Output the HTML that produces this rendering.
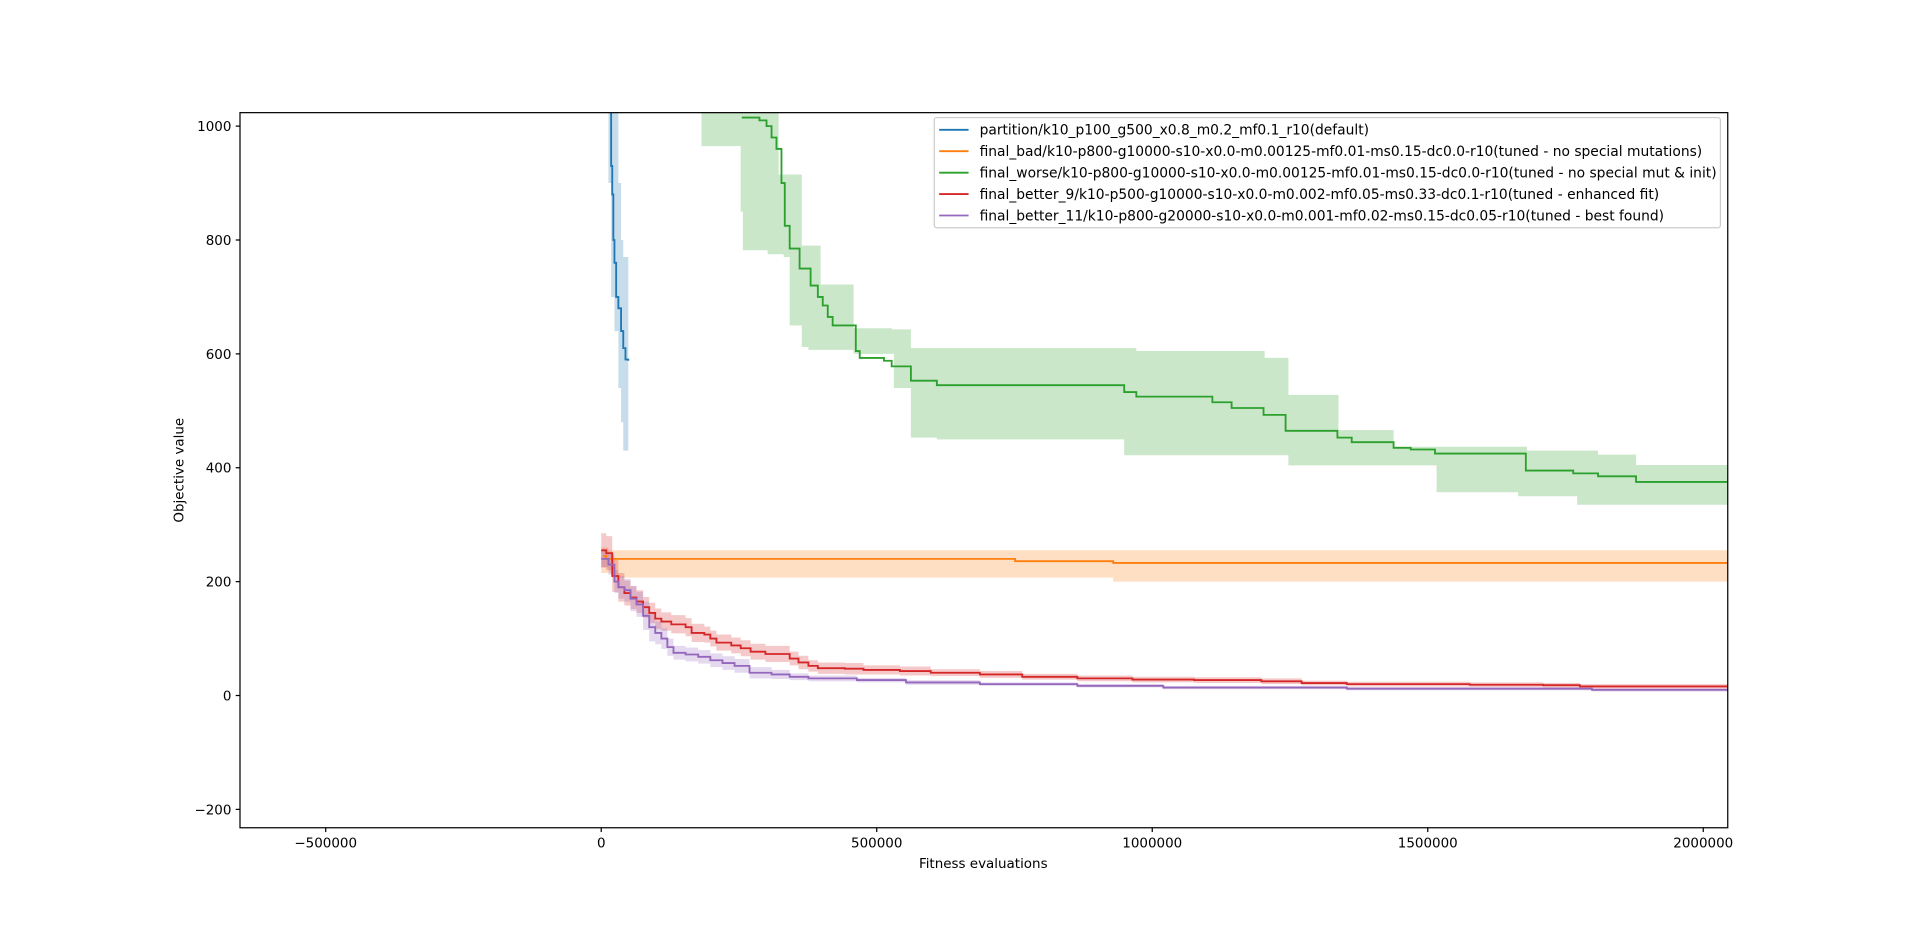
<!DOCTYPE html>
<html><head><meta charset="utf-8"><style>html,body{margin:0;padding:0;background:#fff;overflow:hidden}svg{display:block}text{font-family:"DejaVu Sans","Liberation Sans",sans-serif;font-size:11px;fill:#000}#legend text{font-size:11.3px}</style></head>
<body>
<svg id="chart" width="1920" height="930" viewBox="0 0 1568 759.5" preserveAspectRatio="none" xmlns="http://www.w3.org/2000/svg">
<defs><clipPath id="clip"><rect x="196" y="92" width="1215" height="584"/></clipPath></defs>
<rect x="0" y="0" width="1568" height="784" fill="#fff"/>
<g id="plot" clip-path="url(#clip)"></g>
<rect x="196" y="92" width="1215" height="584" fill="none" stroke="#000" stroke-width="1"/>
<g id="axes"></g>
<text x="803" y="709" text-anchor="middle">Fitness evaluations</text>
<text x="0" y="0" transform="translate(150,384) rotate(-90)" text-anchor="middle">Objective value</text>
<g id="legend"></g>
</svg>
<script>
// x in thousands of evaluations
const xTicks=[-500,0,500,1000,1500,2000];
const xTickLabels=["\u2212500000","0","500000","1000000","1500000","2000000"];
const yTicks=[-200,0,200,400,600,800,1000];
const yTickLabels=["\u2212200","0","200","400","600","800","1000"];

const blueX=[13,18,20,22,24,27,31,36,40,44,49];
const blueY=[1050,930,880,800,760,700,680,640,610,590,588];
const blueLoX=[13,18,24,31,36,40,49];
const blueLoY=[900,700,640,540,480,430,430];
const blueHiX=[13,22,31,36,40,49];
const blueHiY=[1100,1023,900,800,770,600];

const orangeX=[4,9,751,929];
const orangeY=[245,240,236,233];
const orangeHiX=[0,13];
const orangeHiY=[260,255];
const orangeLoX=[0,20,929];
const orangeLoY=[215,207,200];

const greenX=[255,287,300,309,318,327,333,342,360,380,393,402,411,420,462,469,513,527,562,609,949,971,1109,1144,1202,1242,1336,1362,1438,1469,1513,1678,1764,1809,1878];
const greenY=[1015,1010,1000,980,960,900,825,785,750,720,700,685,665,650,605,593,588,578,553,545,533,525,515,505,493,465,453,445,435,432,425,395,390,385,375];
const greenLoX=[182,253,257,302,331,342,364,376,458,531,562,609,949,1247,1516,1664,1771];
const greenLoY=[965,850,782,775,770,650,612,607,600,540,453,450,422,404,357,350,335];
const greenHiX=[182,322,364,398,458,527,562,971,1204,1247,1338,1438,1680,1809,1878];
const greenHiY=[1100,915,790,722,645,643,610,605,593,528,466,437,430,423,405];

const redX=[0,9,20,31,42,53,64,76,87,98,109,127,153,164,187,198,209,236,253,271,298,342,358,376,393,442,476,542,598,687,764,864,964,1076,1198,1271,1353,1576,1709,1776];
const redY=[255,250,210,190,180,172,165,155,145,135,130,125,120,110,107,100,93,88,83,77,73,65,58,52,48,47,45,43,40,37,33,30,28,27,25,22,20,19,18,16];
const redSpread=[30,30,28,25,22,20,20,18,18,18,16,16,16,16,14,14,14,14,14,14,14,12,12,10,10,10,8,8,6,6,5,5,5,5,5,4,4,4,4,4];

const purpleX=[0,13,24,31,42,53,64,76,87,98,109,120,131,153,176,198,220,242,269,309,342,376,464,553,687,864,1020,1353,1798];
const purpleY=[240,230,200,190,185,170,160,140,120,110,100,85,75,72,68,62,57,52,40,37,33,30,27,23,20,17,14,12,10];
const purpleSpread=[15,18,20,20,20,22,22,25,25,20,18,15,12,12,12,12,12,12,10,8,6,5,4,4,3,3,3,3,3];

const XMIN=-655.556, XMAX=2044.444;
function sx(k){return 196+(k-XMIN)*(1215/(XMAX-XMIN));}
function sy(v){return 568-v*0.465;}
const NS="http://www.w3.org/2000/svg";
function mk(tag,attrs,parent){const e=document.createElementNS(NS,tag);for(const k in attrs)e.setAttribute(k,attrs[k]);parent.appendChild(e);return e;}
function stepPts(xs,ys,end){const p=[];for(let i=0;i<xs.length;i++){const xn=i+1<xs.length?xs[i+1]:end;p.push([sx(xs[i]),sy(ys[i])]);p.push([sx(xn),sy(ys[i])]);}return p;}
const plot=document.getElementById('plot');
function band(hx,hy,lx,ly,end,color,name){
  const up=stepPts(hx,hy,end), lo=stepPts(lx,ly,end).reverse();
  const pts=up.concat([[sx(end),sy(ly[ly.length-1])]]).concat(lo).concat([[sx(lx[0]),sy(hy[0])]]);
  const e=mk('polygon',{points:pts.map(p=>p[0].toFixed(1)+','+p[1].toFixed(1)).join(' '),fill:color,'fill-opacity':0.25,stroke:'none'},plot);
  
  
}
function line(xs,ys,end,color,name){
  const pts=stepPts(xs,ys,end);
  const e=mk('polyline',{points:pts.map(p=>p[0].toFixed(1)+','+p[1].toFixed(1)).join(' '),fill:'none',stroke:color,'stroke-width':1.5},plot);
  
  
}
function spreadBand(xs,ys,sp,end,color,name){
  band(xs,ys.map((v,i)=>v+sp[i]),xs,ys.map((v,i)=>v-sp[i]),end,color,name);
}
const C={b:'#1f77b4',o:'#ff7f0e',g:'#2ca02c',r:'#d62728',p:'#9467bd'};
band(blueHiX,blueHiY,blueLoX,blueLoY,49,C.b,'blue-band');
band(orangeHiX,orangeHiY,orangeLoX,orangeLoY,2044.444,C.o,'orange-band');
band(greenHiX,greenHiY,greenLoX,greenLoY,2044.444,C.g,'green-band');
spreadBand(redX,redY,redSpread,2044.444,C.r,'red-band');
spreadBand(purpleX,purpleY,purpleSpread,2044.444,C.p,'purple-band');
line(blueX,blueY,49,C.b,'blue-line');
line(orangeX,orangeY,2044.444,C.o,'orange-line');
line(greenX,greenY,2044.444,C.g,'green-line');
line(redX,redY,2044.444,C.r,'red-line');
line(purpleX,purpleY,2044.444,C.p,'purple-line');

const axes=document.getElementById('axes');
xTicks.forEach((t,i)=>{
  const l=mk('line',{x1:sx(t),x2:sx(t),y1:676,y2:679.5,stroke:'#000'},axes);
  
  
  const tx=mk('text',{x:sx(t),y:692,'text-anchor':'middle'},axes);tx.textContent=xTickLabels[i];
  
  
});
yTicks.forEach((t,i)=>{
  const l=mk('line',{x1:192.5,x2:196,y1:sy(t),y2:sy(t),stroke:'#000'},axes);
  
  
  const tx=mk('text',{x:189,y:sy(t)+4,'text-anchor':'end'},axes);tx.textContent=yTickLabels[i];
  
  
});
const legendLabels=["partition/k10_p100_g500_x0.8_m0.2_mf0.1_r10(default)","final_bad/k10-p800-g10000-s10-x0.0-m0.00125-mf0.01-ms0.15-dc0.0-r10(tuned - no special mutations)","final_worse/k10-p800-g10000-s10-x0.0-m0.00125-mf0.01-ms0.15-dc0.0-r10(tuned - no special mut & init)","final_better_9/k10-p500-g10000-s10-x0.0-m0.002-mf0.05-ms0.33-dc0.1-r10(tuned - enhanced fit)","final_better_11/k10-p800-g20000-s10-x0.0-m0.001-mf0.02-ms0.15-dc0.05-r10(tuned - best found)"];
const legendColors=[C.b,C.o,C.g,C.r,C.p];
const lg=document.getElementById('legend');
mk('rect',{x:763,y:96,width:642,height:90,rx:2,fill:'#fff','fill-opacity':0.8,stroke:'#ccc'},lg);
legendLabels.forEach((s,i)=>{
  const y=106+i*17.5;
  const g=mk('g',{},lg);
  
  
  mk('line',{x1:767,x2:791,y1:y,y2:y,stroke:legendColors[i],'stroke-width':1.5},g);
  const t=mk('text',{x:800,y:y+4},g);
  t.textContent=s;
});
</script>
</body></html>
